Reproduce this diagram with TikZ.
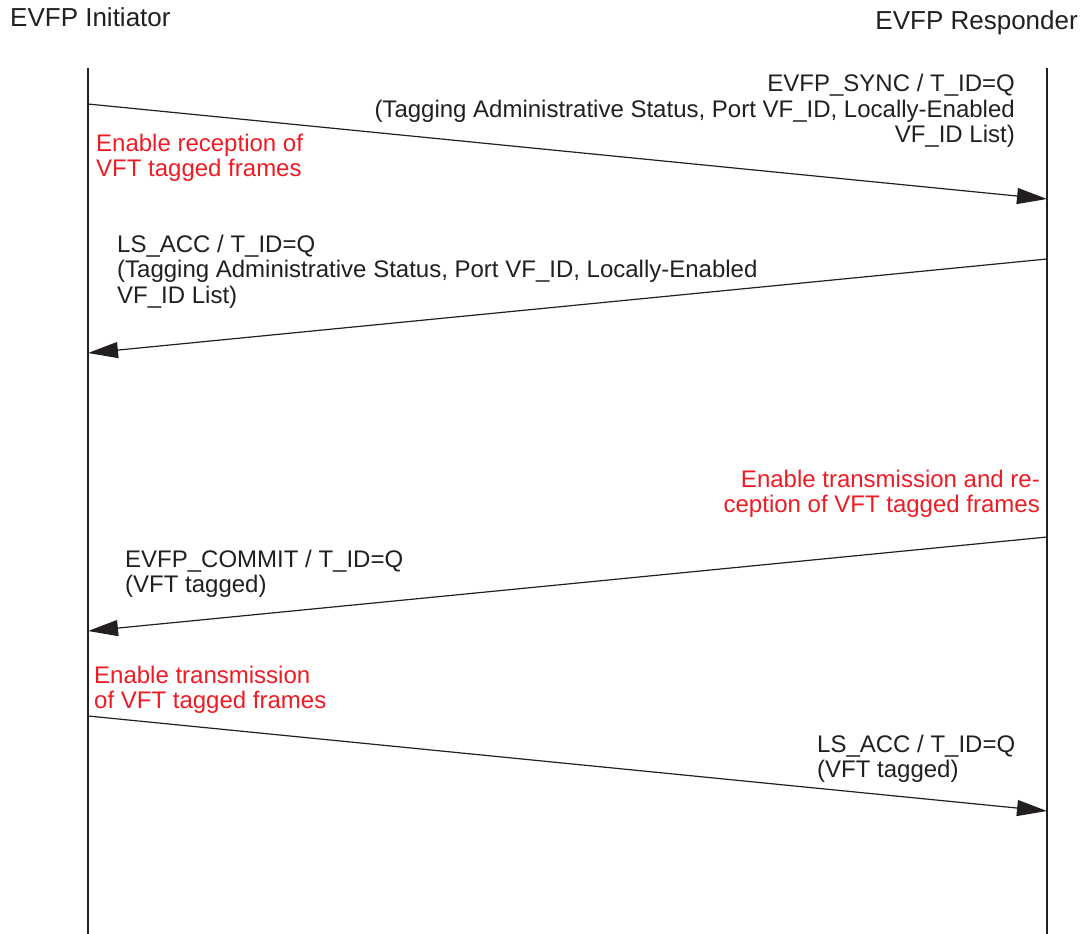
\documentclass[tikz,border=0pt]{standalone}
\usepackage{fontspec}
\setmainfont{Liberation Sans}
\usetikzlibrary{arrows.meta}
\definecolor{ink}{RGB}{35,31,32}
\definecolor{note}{RGB}{237,28,36}
\tikzset{
  lifeline/.style={draw=ink, line width=1.2pt},
  msg/.style={draw=ink, line width=1.2pt, -{Triangle[length=30pt,width=16pt]}},
  title/.style={inner sep=0pt, text=ink, font=\fontsize{26}{30}\selectfont},
  label/.style={inner sep=0pt, text=ink, font=\fontsize{24}{25.5}\selectfont},
  notetext/.style={inner sep=0pt, text=note, font=\fontsize{24}{25}\selectfont}
}
\begin{document}
\begin{tikzpicture}[x=1pt,y=-1pt]
\useasboundingbox (0,0) rectangle (1084,934);
% titles
\node[title, anchor=base west] (tinit) at (10,27) {EVFP Initiator};
\node[title, anchor=base east] (tresp) at (1078,30) {EVFP Responder};
% lifelines
\coordinate (itop) at (88,68);
\coordinate (ibot) at (88,934);
\coordinate (rtop) at (1047,68);
\coordinate (rbot) at (1047,934);
\draw[lifeline] (itop) -- (ibot);
\draw[lifeline] (rtop) -- (rbot);
% message end points
\coordinate (i1) at (88,104);
\coordinate (r1) at (1047,199);
\coordinate (r2) at (1047,259);
\coordinate (i2) at (88,353);
\coordinate (r3) at (1047,537);
\coordinate (i3) at (88,631);
\coordinate (i4) at (88,716);
\coordinate (r4) at (1047,811);
\draw[msg] (i1) -- (r1);
\draw[msg] (r2) -- (i2);
\draw[msg] (r3) -- (i3);
\draw[msg] (i4) -- (r4);
% labels
\node[label, anchor=base east] (l1) at (1015,92)
  {\begin{tabular}[t]{@{}r@{}}EVFP\_SYNC / T\_ID=Q\\(Tagging Administrative Status, Port VF\_ID, Locally-Enabled\\VF\_ID List)\end{tabular}};
\node[notetext, anchor=base west] (n1) at (96,151)
  {\begin{tabular}[t]{@{}l@{}}Enable reception of\\VFT tagged frames\end{tabular}};
\node[label, anchor=base west] (l2) at (117,252)
  {\begin{tabular}[t]{@{}l@{}}LS\_ACC / T\_ID=Q\\(Tagging Administrative Status, Port VF\_ID, Locally-Enabled\\VF\_ID List)\end{tabular}};
\node[notetext, anchor=base east] (n2) at (1040,487)
  {\begin{tabular}[t]{@{}r@{}}Enable transmission and re-\\ception of VFT tagged frames\end{tabular}};
\node[label, anchor=base west] (l3) at (125,567)
  {\begin{tabular}[t]{@{}l@{}}EVFP\_COMMIT / T\_ID=Q\\(VFT tagged)\end{tabular}};
\node[notetext, anchor=base west] (n3) at (94,683)
  {\begin{tabular}[t]{@{}l@{}}Enable transmission\\of VFT tagged frames\end{tabular}};
\node[label, anchor=base west] (l4) at (817,752)
  {\begin{tabular}[t]{@{}l@{}}LS\_ACC / T\_ID=Q\\(VFT tagged)\end{tabular}};
\end{tikzpicture}
\end{document}
